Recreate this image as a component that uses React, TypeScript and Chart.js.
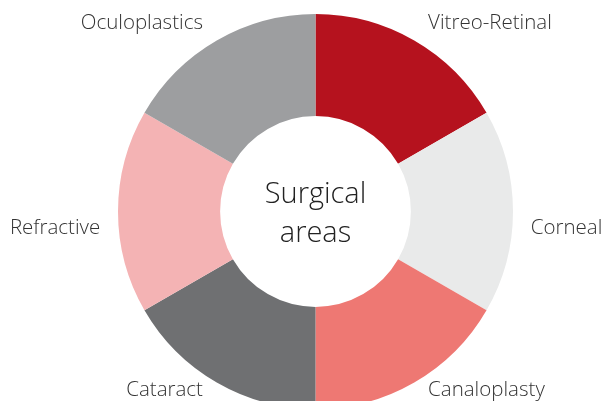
import React, { useEffect, useRef } from "react";
import { Chart, registerables } from "chart.js";

Chart.register(...registerables);

const categories = ["Vitreo-Retinal", "Corneal", "Canaloplasty", "Cataract", "Refractive", "Oculoplastics"];
const values = [1, 1, 1, 1, 1, 1];
const colors = ["#B5121E", "#E9EAEA", "#EE7873", "#6F7072", "#F4B3B4", "#9D9EA0"];
const centerLines = ["Surgical", "areas"];

const FONT = '"Open Sans", "Noto Sans", sans-serif';

const labelPlugin = {
  id: "outerLabels",
  afterDraw(chart: any) {
    const ctx = chart.ctx as CanvasRenderingContext2D;
    const meta = chart.getDatasetMeta(0);
    ctx.save();
    ctx.fillStyle = "#333333";
    ctx.font = `300 20.5px ${FONT}`;
    ctx.textBaseline = "middle";
    meta.data.forEach((arc: any, i: number) => {
      const { x, y, startAngle, endAngle, outerRadius } = arc.getProps(
        ["x", "y", "startAngle", "endAngle", "outerRadius"],
        true
      );
      const a = (startAngle + endAngle) / 2;
      const c = Math.cos(a);
      const s = Math.sin(a);
      const side = Math.abs(s) < 0.1;
      const lx = x + c * (outerRadius * (side ? 1.09 : 1.14));
      const ly = y + s * (outerRadius * 1.073) - 5 + (side ? 22 : 0);
      ctx.textAlign = c > 0.05 ? "left" : c < -0.05 ? "right" : "center";
      ctx.fillText(categories[i], lx, ly);
    });
    const first = meta.data[0];
    if (first) {
      ctx.fillStyle = "#222222";
      ctx.font = `300 29px ${FONT}`;
      ctx.textAlign = "center";
      ctx.fillText(centerLines[0], first.x, first.y - 17);
      ctx.fillText(centerLines[1], first.x, first.y + 22);
    }
    ctx.restore();
  },
};

export default function App() {
  const ref = useRef<HTMLCanvasElement | null>(null);
  useEffect(() => {
    if (!ref.current) return;
    const chart = new Chart(ref.current, {
      type: "doughnut",
      data: {
        labels: categories,
        datasets: [
          {
            data: values,
            backgroundColor: colors,
            borderWidth: 0,
            hoverOffset: 0,
          },
        ],
      },
      options: {
        animation: false,
        responsive: false,
        cutout: "48.3%",
        layout: { padding: { left: 118, right: 90, top: 14, bottom: 11 } },
        plugins: {
          legend: { display: false },
          tooltip: { enabled: false },
        },
      },
      plugins: [labelPlugin],
    });
    return () => chart.destroy();
  }, []);
  return (
    <div style={{ position: "fixed", left: 0, top: 0, width: 603, height: 401, overflow: "hidden", background: "#fff" }}>
      <canvas ref={ref} width={603} height={420} style={{ display: "block" }} />
    </div>
  );
}
